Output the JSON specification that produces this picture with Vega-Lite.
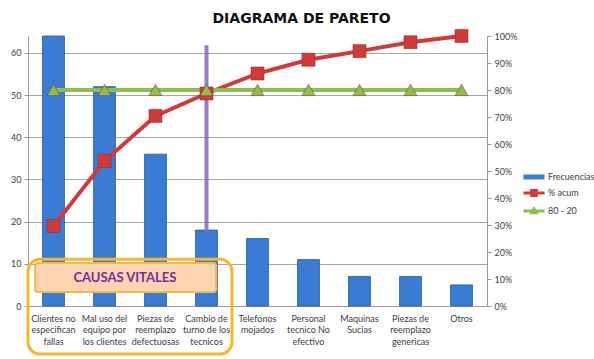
{
  "$schema": "https://vega.github.io/schema/vega-lite/v6.json",
  "width": 459,
  "height": 270,
  "autosize": {"type": "none"},
  "padding": {"left": 28, "top": 36, "right": 107, "bottom": 53},
  "background": "white",
  "title": {"text": "DIAGRAMA DE PARETO", "font": "DejaVu Sans", "fontSize": 14, "fontWeight": "bold", "color": "#111111", "anchor": "middle", "dx": 44, "offset": 1},
  "config": {
    "view": {"stroke": null},
    "axis": {"labelFont": "Lato", "labelFontSize": 9, "labelColor": "#404040", "domainColor": "#9a9a9a", "tickColor": "#9a9a9a", "gridColor": "#a6a6a6", "title": null},
    "legend": {"labelFont": "Lato", "labelFontSize": 9, "labelColor": "#404040", "symbolSize": 196, "rowPadding": 3, "labelOffset": 6}
  },
  "datasets": {
    "pareto": [
      {"causa": "Clientes no\nespecifican\nfallas", "Frecuencias": 64, "% acum": 0.296, "80 - 20": 0.8},
      {"causa": "Mal uso del\nequipo por\nlos clientes", "Frecuencias": 52, "% acum": 0.537, "80 - 20": 0.8},
      {"causa": "Piezas de\nreemplazo\ndefectuosas", "Frecuencias": 36, "% acum": 0.704, "80 - 20": 0.8},
      {"causa": "Cambio de\nturno de los\ntecnicos", "Frecuencias": 18, "% acum": 0.787, "80 - 20": 0.8},
      {"causa": "Telefonos\nmojados", "Frecuencias": 16, "% acum": 0.861, "80 - 20": 0.8},
      {"causa": "Personal\ntecnico No\nefectivo", "Frecuencias": 11, "% acum": 0.912, "80 - 20": 0.8},
      {"causa": "Maquinas\nSucias", "Frecuencias": 7, "% acum": 0.944, "80 - 20": 0.8},
      {"causa": "Piezas de\nreemplazo\ngenericas", "Frecuencias": 7, "% acum": 0.977, "80 - 20": 0.8},
      {"causa": "Otros", "Frecuencias": 5, "% acum": 1.0, "80 - 20": 0.8}
    ],
    "corte": [
      {"causa": "Cambio de\nturno de los\ntecnicos", "desde": 17.6, "hasta": 61.8}
    ],
    "marco": [
      {"inicio": "Clientes no\nespecifican\nfallas", "fin": "Cambio de\nturno de los\ntecnicos", "arriba": 11.1, "abajo": -11.4}
    ],
    "etiqueta": [
      {"inicio": "Clientes no\nespecifican\nfallas", "fin": "Cambio de\nturno de los\ntecnicos", "centro": "Mal uso del\nequipo por\nlos clientes", "arriba": 10.2, "abajo": 3.3, "medio": 6.7, "texto": "CAUSAS VITALES"}
    ]
  },
  "encoding": {
    "x": {
      "field": "causa", "type": "nominal", "sort": null,
      "scale": {"paddingInner": 0, "paddingOuter": 0},
      "axis": {"labelExpr": "split(datum.value, '\\n')", "labelAngle": 0, "labelLineHeight": 11.5, "labelPadding": 8, "ticks": false, "domainColor": "#9a9a9a", "labelBaseline": "top"}
    }
  },
  "layer": [
    {
      "layer": [
        {
          "data": {"name": "pareto"},
          "transform": [{"fold": ["Frecuencias"], "as": ["serie", "valor"]}],
          "mark": {"type": "bar", "width": {"band": 0.43}, "stroke": "#2a5c9e", "strokeWidth": 0.8},
          "encoding": {
            "y": {"field": "valor", "type": "quantitative", "scale": {"domain": [0, 64], "nice": false},
                  "axis": {"orient": "left", "values": [0, 10, 20, 30, 40, 50, 60], "grid": true, "tickSize": 4, "labelPadding": 3}},
            "color": {"field": "serie", "type": "nominal",
                      "scale": {"domain": ["Frecuencias", "% acum", "80 - 20"], "range": ["#3a7bd5", "#d23a3a", "#8fbf4a"]},
                      "legend": {"title": null, "orient": "none", "legendX": 498, "legendY": 133, "symbolSize": 196, "labelOffset": 6,
                                 "encode": {"symbols": {"update": {
                                   "shape": {"signal": "datum.value === 'Frecuencias' ? 'M-1.4,-0.25H1.4V0.25H-1.4Z' : (datum.value === '% acum' ? 'M-1.4,-0.12H1.4V0.12H-1.4Z M-0.45,-0.45H0.45V0.45H-0.45Z' : 'M-1.4,-0.12H1.4V0.12H-1.4Z M0,-0.5L0.5,0.35H-0.5Z')"},
                                   "fill": {"scale": "color", "field": "value"},
                                   "fillOpacity": {"value": 1},
                                   "stroke": {"value": "transparent"}
                                 }}}}}
          }
        },
        {
          "data": {"name": "corte"},
          "mark": {"type": "rule", "color": "#8f6cc4", "strokeWidth": 4, "opacity": 0.9},
          "encoding": {
            "y": {"field": "desde", "type": "quantitative"},
            "y2": {"field": "hasta"}
          }
        },
        {
          "data": {"name": "marco"},
          "mark": {"type": "rect", "fill": null, "fillOpacity": 0, "stroke": "#f6b72a", "strokeWidth": 3, "cornerRadius": 12},
          "encoding": {
            "x": {"field": "inicio", "type": "nominal", "sort": null, "bandPosition": 0},
            "x2": {"field": "fin", "bandPosition": 1},
            "y": {"field": "arriba", "type": "quantitative"},
            "y2": {"field": "abajo"}
          }
        },
        {
          "data": {"name": "etiqueta"},
          "mark": {"type": "rect", "fill": "#fbd4b2", "stroke": "#f5b84a", "strokeWidth": 2, "cornerRadius": 3},
          "encoding": {
            "x": {"field": "inicio", "type": "nominal", "sort": null, "bandPosition": 0.14},
            "x2": {"field": "fin", "bandPosition": 0.69},
            "y": {"field": "arriba", "type": "quantitative"},
            "y2": {"field": "abajo"}
          }
        },
        {
          "data": {"name": "etiqueta"},
          "mark": {"type": "text", "font": "Lato", "fontSize": 13, "fontWeight": "bold", "color": "#7030a0", "align": "center", "baseline": "middle"},
          "encoding": {
            "x": {"field": "centro", "type": "nominal", "sort": null, "bandPosition": 0.9},
            "y": {"field": "medio", "type": "quantitative"},
            "text": {"field": "texto"}
          }
        }
      ]
    },
    {
      "data": {"name": "pareto"},
      "transform": [{"fold": ["% acum", "80 - 20"], "as": ["serie", "pct"]}],
      "encoding": {
        "y": {"field": "pct", "type": "quantitative", "scale": {"domain": [0, 1], "nice": false},
              "axis": {"orient": "right", "format": ".0%", "values": [0, 0.1, 0.2, 0.3, 0.4, 0.5, 0.6, 0.7, 0.8, 0.9, 1], "grid": false, "tickSize": 4, "labelPadding": 3}},
        "color": {"field": "serie", "type": "nominal",
                  "legend": {"title": null, "orient": "none", "legendX": 498, "legendY": 133, "symbolSize": 196, "labelOffset": 6,
                             "encode": {"symbols": {"update": {
                               "shape": {"signal": "datum.value === 'Frecuencias' ? 'M-1.4,-0.25H1.4V0.25H-1.4Z' : (datum.value === '% acum' ? 'M-1.4,-0.12H1.4V0.12H-1.4Z M-0.45,-0.45H0.45V0.45H-0.45Z' : 'M-1.4,-0.12H1.4V0.12H-1.4Z M0,-0.5L0.5,0.35H-0.5Z')"},
                               "fill": {"scale": "color", "field": "value"},
                               "fillOpacity": {"value": 1},
                               "stroke": {"value": "transparent"}
                             }}}}}
      },
      "layer": [
        {"mark": {"type": "line", "strokeWidth": 4}},
        {"mark": {"type": "point", "filled": true, "opacity": 1, "size": 170, "strokeWidth": 1},
         "encoding": {
           "shape": {"field": "serie", "type": "nominal", "scale": {"domain": ["% acum", "80 - 20"], "range": ["square", "triangle-up"]}, "legend": null},
           "stroke": {"value": "#8a2a2a"},
           "strokeOpacity": {"value": 0.5}
         }}
      ]
    }
  ],
  "resolve": {"scale": {"y": "independent"}}
}
